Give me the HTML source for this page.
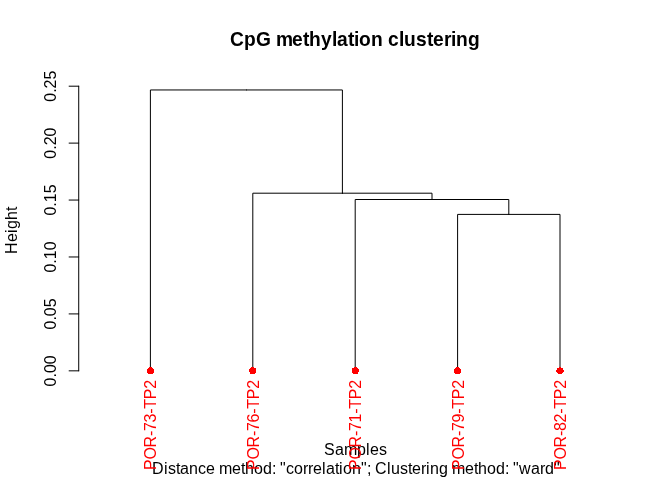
<!DOCTYPE html>
<html><head><meta charset="utf-8"><style>
html,body{margin:0;padding:0;background:#fff;}
body{width:672px;height:480px;overflow:hidden;}
svg{display:block;will-change:transform;}
text{font-family:"Liberation Sans",sans-serif;font-size:16px;fill:#000;}
.red text{fill:#f00;}
</style></head><body>
<svg width="672" height="480" viewBox="0 0 672 480">
<rect width="672" height="480" fill="#fff"/>
<text x="230 244 256 271 276 292 303 309 321 332 337 348 354 359 371 383 388 399 404 416 427 433 444 451 456 468" y="46" transform="translate(0,46) scale(1,1.05) translate(0,-46)" style="font-weight:bold;font-size:19.2px">CpG methylation clustering</text>
<text x="324 335 344 357 366 370 379" y="455">Samples</text>
<text x="152 164 168 176 180 189 198 206 215 219 232 241 245 254 263 272 276 280 286 294 303 308 313 322 326 335 339 343 352 361 367 371 375 387 391 400 408 412 421 426 430 439 448 452 465 474 478 487 496 505 509 513 519 531 540 545 554" y="474">Distance method: &quot;correlation&quot;; Clustering method: &quot;ward&quot;</text>
<text transform="translate(17.28,230.4) rotate(-90)" x="-23.5 -11.5 -2.5 1.5 10.5 19.5">Height</text>
<g text-anchor="middle"><text transform="translate(55.68,370.84) rotate(-90)">0.00</text><text transform="translate(55.68,313.91) rotate(-90)">0.05</text><text transform="translate(55.68,256.98) rotate(-90)">0.10</text><text transform="translate(55.68,200.05) rotate(-90)">0.15</text><text transform="translate(55.68,143.12) rotate(-90)">0.20</text><text transform="translate(55.68,86.19) rotate(-90)">0.25</text></g>
<g fill="none" stroke="#000" stroke-width="1" stroke-linecap="round" stroke-linejoin="round"><line x1="78.72" y1="370.84" x2="78.72" y2="86.19"/>
<line x1="78.72" y1="370.84" x2="69.12" y2="370.84"/>
<line x1="78.72" y1="313.91" x2="69.12" y2="313.91"/>
<line x1="78.72" y1="256.98" x2="69.12" y2="256.98"/>
<line x1="78.72" y1="200.05" x2="69.12" y2="200.05"/>
<line x1="78.72" y1="143.12" x2="69.12" y2="143.12"/>
<line x1="78.72" y1="86.19" x2="69.12" y2="86.19"/>
<polyline points="246.40,89.96 150.40,89.96 150.40,370.84"/>
<polyline points="246.40,89.96 342.40,89.96 342.40,193.20"/>
<polyline points="342.40,193.20 252.80,193.20 252.80,370.84"/>
<polyline points="342.40,193.20 432.00,193.20 432.00,199.50"/>
<polyline points="432.00,199.50 355.20,199.50 355.20,370.84"/>
<polyline points="432.00,199.50 508.80,199.50 508.80,214.40"/>
<polyline points="508.80,214.40 457.60,214.40 457.60,370.84"/>
<polyline points="508.80,214.40 560.00,214.40 560.00,370.84"/></g>
<g fill="#f00" shape-rendering="crispEdges"><rect x="149" y="367" width="3" height="1"/><rect x="148" y="368" width="5" height="1"/><rect x="147" y="369" width="7" height="1"/><rect x="147" y="370" width="7" height="1"/><rect x="147" y="371" width="7" height="1"/><rect x="147" y="372" width="7" height="1"/><rect x="148" y="373" width="5" height="1"/><rect x="251" y="367" width="3" height="1"/><rect x="250" y="368" width="6" height="1"/><rect x="249" y="369" width="7" height="1"/><rect x="249" y="370" width="7" height="1"/><rect x="249" y="371" width="7" height="1"/><rect x="250" y="372" width="6" height="1"/><rect x="250" y="373" width="5" height="1"/><rect x="354" y="367" width="3" height="1"/><rect x="352" y="368" width="6" height="1"/><rect x="352" y="369" width="7" height="1"/><rect x="352" y="370" width="7" height="1"/><rect x="352" y="371" width="7" height="1"/><rect x="352" y="372" width="6" height="1"/><rect x="353" y="373" width="5" height="1"/><rect x="456" y="367" width="3" height="1"/><rect x="455" y="368" width="5" height="1"/><rect x="454" y="369" width="7" height="1"/><rect x="454" y="370" width="7" height="1"/><rect x="454" y="371" width="7" height="1"/><rect x="454" y="372" width="7" height="1"/><rect x="455" y="373" width="5" height="1"/><rect x="559" y="367" width="2" height="1"/><rect x="557" y="368" width="6" height="1"/><rect x="557" y="369" width="6" height="1"/><rect x="556" y="370" width="8" height="1"/><rect x="556" y="371" width="8" height="1"/><rect x="557" y="372" width="6" height="1"/><rect x="558" y="373" width="4" height="1"/></g>
<g text-anchor="end" class="red"><text transform="translate(156.40,379.84) rotate(-90)" textLength="90.2" lengthAdjust="spacing">POR-73-TP2</text>
<text transform="translate(258.80,379.84) rotate(-90)" textLength="90.2" lengthAdjust="spacing">POR-76-TP2</text>
<text transform="translate(361.20,379.84) rotate(-90)" textLength="90.2" lengthAdjust="spacing">POR-71-TP2</text>
<text transform="translate(463.60,379.84) rotate(-90)" textLength="90.2" lengthAdjust="spacing">POR-79-TP2</text>
<text transform="translate(566.00,379.84) rotate(-90)" textLength="90.2" lengthAdjust="spacing">POR-82-TP2</text></g>
</svg>
</body></html>
